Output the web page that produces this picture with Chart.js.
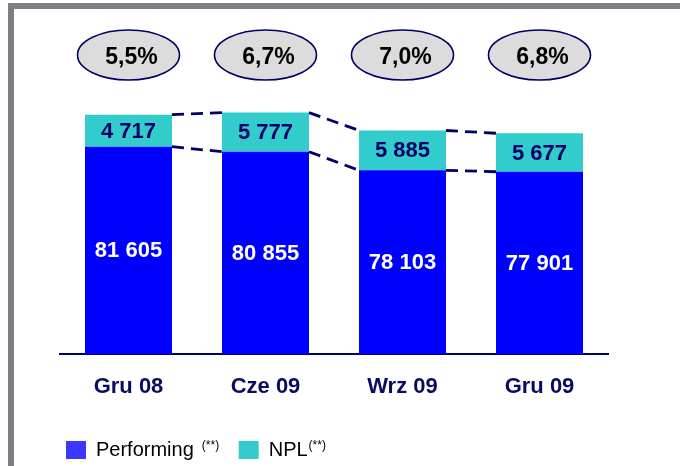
<!DOCTYPE html>
<html>
<head>
<meta charset="utf-8">
<script src="https://cdn.jsdelivr.net/npm/chart.js@4.4.1/dist/chart.umd.min.js"></script>
<style>
  html, body { margin: 0; padding: 0; background: #fff; }
  #wrap { position: relative; width: 680px; height: 466px; overflow: hidden; }
  #frame {
    position: absolute; left: 8px; top: 3px; width: 700px; height: 500px;
    border-top: 6px solid #7b7f83; border-left: 6px solid #7b7f83;
  }
  #chart { position: absolute; left: 0; top: 0; }
</style>
</head>
<body>
<div id="wrap">
  <div id="frame"></div>
  <canvas id="chart" width="680" height="466"></canvas>
</div>
<script>
// values
const categories = ['Gru 08', 'Cze 09', 'Wrz 09', 'Gru 09'];
const performing = [81605, 80855, 78103, 77901];
const npl = [4717, 5777, 5885, 5677];
const nplRatio = [5.5, 6.7, 7.0, 6.8];

const NAVY = '#000066';
const FONT = '"Liberation Sans", Arial, sans-serif';

const fmtNum = v => String(v).replace(/\B(?=(\d{3})+(?!\d))/g, ' ');
const fmtPct = v => v.toFixed(1).replace('.', ',') + '%';

// numbers in the middle of each stacked segment
const segmentLabels = {
    id: 'segmentLabels',
    afterDatasetsDraw(chart) {
        const ctx = chart.ctx;
        const bottom = chart.chartArea.bottom;
        ctx.save();
        ctx.font = 'bold 22px ' + FONT;
        ctx.textAlign = 'center';
        ctx.textBaseline = 'middle';
        chart.data.datasets.forEach((ds, di) => {
            const meta = chart.getDatasetMeta(di);
            meta.data.forEach((bar, i) => {
                const p = bar.getProps(['x', 'y', 'base'], true);
                const base = Math.min(p.base, bottom);
                ctx.fillStyle = di === 0 ? '#ffffff' : NAVY;
                ctx.fillText(fmtNum(ds.data[i]), p.x, (p.y + base) / 2 + 1);
            });
        });
        ctx.restore();
    }
};

// dashed lines joining the segment tops of neighbouring bars
const connectors = {
    id: 'connectors',
    afterDatasetsDraw(chart) {
        const ctx = chart.ctx;
        ctx.save();
        ctx.strokeStyle = NAVY;
        ctx.lineWidth = 2.8;
        ctx.setLineDash([12, 7]);
        chart.data.datasets.forEach((ds, di) => {
            const bars = chart.getDatasetMeta(di).data;
            for (let i = 0; i < bars.length - 1; i++) {
                const a = bars[i].getProps(['x', 'y', 'width'], true);
                const b = bars[i + 1].getProps(['x', 'y', 'width'], true);
                ctx.beginPath();
                ctx.moveTo(a.x + a.width / 2, a.y);
                ctx.lineTo(b.x - b.width / 2, b.y);
                ctx.stroke();
            }
        });
        ctx.restore();
    }
};

// NPL ratio bubbles above the bars
const ratioBubbles = {
    id: 'ratioBubbles',
    afterDraw(chart) {
        const ctx = chart.ctx;
        const xs = chart.scales.x;
        const cy = chart.chartArea.top + 33;
        ctx.save();
        nplRatio.forEach((v, i) => {
            const cx = xs.getPixelForValue(i);
            ctx.beginPath();
            ctx.ellipse(cx, cy, 51, 25, 0, 0, Math.PI * 2);
            ctx.fillStyle = '#dcdcdc';
            ctx.fill();
            ctx.lineWidth = 1.6;
            ctx.strokeStyle = NAVY;
            ctx.stroke();
            ctx.font = 'bold 23px ' + FONT;
            ctx.fillStyle = '#000000';
            ctx.textAlign = 'center';
            ctx.textBaseline = 'middle';
            ctx.fillText(fmtPct(v), cx + 3, cy + 3);
        });
        ctx.restore();
    }
};

// the small "(**)" marks after the legend texts
const legendSup = {
    id: 'legendSup',
    afterDraw(chart) {
        const lg = chart.legend;
        if (!lg || !lg.legendHitBoxes) return;
        const ctx = chart.ctx;
        const names = ['Performing', 'NPL'];
        const gaps = [8, 1];
        ctx.save();
        lg.legendHitBoxes.forEach((hb, i) => {
            ctx.font = '20px ' + FONT;
            const tx = hb.left + 20 + 10 + ctx.measureText(names[i]).width + gaps[i];
            ctx.font = '12px ' + FONT;
            ctx.fillStyle = '#000000';
            ctx.textAlign = 'left';
            ctx.textBaseline = 'top';
            ctx.fillText('(**)', tx, hb.top + 0);
        });
        ctx.restore();
    }
};

new Chart(document.getElementById('chart'), {
    type: 'bar',
    data: {
        labels: categories,
        datasets: [
            { label: 'Performing', data: performing, backgroundColor: '#0000ff', borderWidth: 0 },
            { label: 'NPL', data: npl, backgroundColor: '#33cccc', borderWidth: 0 }
        ]
    },
    options: {
        responsive: false,
        animation: false,
        devicePixelRatio: 1,
        categoryPercentage: 1,
        barPercentage: 0.635,
        layout: { padding: { top: 22, left: 60, right: 72, bottom: -4 } },
        plugins: {
            tooltip: { enabled: false },
            legend: {
                position: 'bottom',
                align: 'start',
                labels: {
                    boxWidth: 20,
                    boxHeight: 18,
                    padding: 6,
                    color: '#000000',
                    font: { family: FONT, size: 20 },
                    generateLabels: () => [
                        { text: 'Performing       ', fillStyle: '#3838ff', strokeStyle: 'rgba(0,0,0,0)', lineWidth: 0, hidden: false, datasetIndex: 0 },
                        { text: 'NPL', fillStyle: '#33cccc', strokeStyle: 'rgba(0,0,0,0)', lineWidth: 0, hidden: false, datasetIndex: 1 }
                    ]
                }
            }
        },
        scales: {
            x: {
                stacked: true,
                grid: { display: false, drawTicks: false },
                border: { display: true, color: NAVY, width: 2 },
                ticks: {
                    color: '#0b0b66',
                    padding: 20,
                    font: { family: FONT, size: 22, weight: 'bold' }
                },
                afterFit: scale => { scale.height = 80; }
            },
            y: {
                stacked: true,
                display: false,
                min: 51000,
                max: 100000
            }
        }
    },
    plugins: [connectors, segmentLabels, ratioBubbles, legendSup]
});
</script>
</body>
</html>
